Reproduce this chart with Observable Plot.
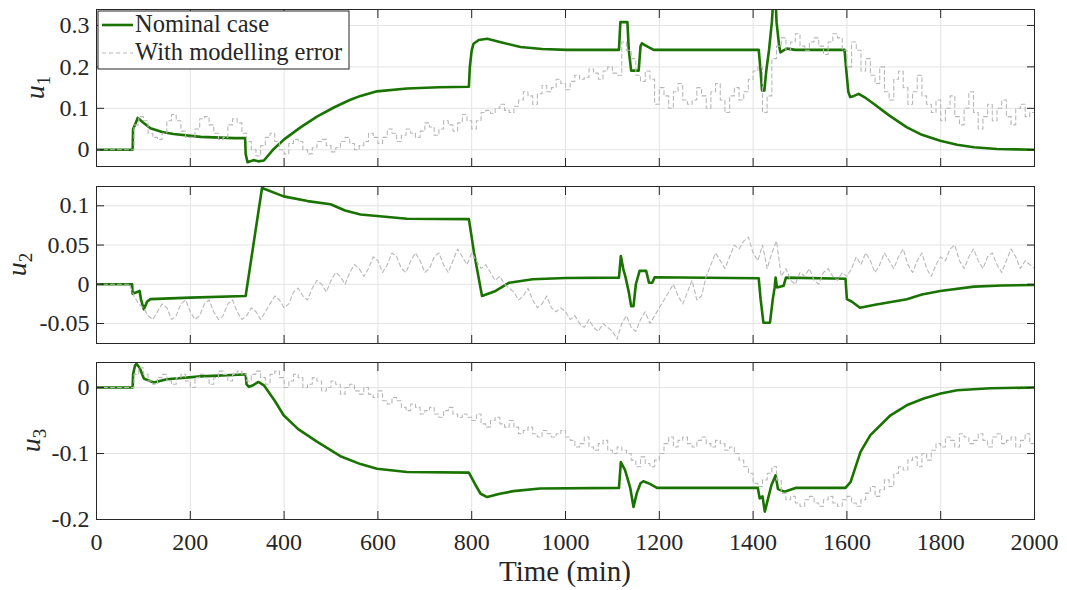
<!DOCTYPE html>
<html><head><meta charset="utf-8">
<script src="https://cdn.jsdelivr.net/npm/d3@7"></script>
<script src="https://cdn.jsdelivr.net/npm/@observablehq/plot@0.6"></script>
<style>
body{margin:0;background:#fff;}
#chart{position:relative;width:1067px;height:590px;background:#fff;}
#chart svg{position:absolute;left:0;}
#chart svg text{font-family:'Liberation Serif','Times New Roman',serif;}
</style></head><body><div id="chart"></div>
<script>
// ---------- Data ----------
const xTicks = [0, 200, 400, 600, 800, 1000, 1200, 1400, 1600, 1800, 2000];
const yTicksU1 = [0, 0.1, 0.2, 0.3];
const yTicksU2 = [-0.05, 0, 0.05, 0.1];
const yTicksU3 = [-0.2, -0.1, 0];
const seriesNames = ["Nominal case", "With modelling error"];
const panelLabels = ["1", "2", "3"];
const xTitle = "Time (min)";

// "With modelling error" series sampled every 10 min from t = 0 to 2000
const errorTime = d3.range(0, 2001, 10);
const u1Error = [
  0,0,0,0,0,0,0,0,                                             // 0-70
  0.06,0.08,0.07,0.04,0.03,0.025,0.04,0.07,0.085,0.07,0.045,0.03,0.03,0.05,0.075,0.08,0.06,0.04,0.025,0.03,0.06,0.075,0.065,0.04, // 80-310
  0.02,0.0,-0.015,0.01,0.03,0.04,0.02,0.0,-0.01,0.015,0.025,0.02,0.0,-0.01,0.005,0.02,0.025,0.01,-0.005,0.005,0.02,0.03,0.015,0.0,0.01, // 320-560
  0.02,0.04,0.03,0.015,0.03,0.05,0.04,0.02,0.035,             // 570-650
  0.05,0.04,0.03,0.045,0.065,0.055,0.035,0.05,0.07,0.06,      // 660-750
  0.045,0.065,0.085,0.07,0.05,0.07,0.09,                      // 760-820
  0.095,0.088,0.1,0.11,0.095,0.09,0.105,                      // 830-890
  0.12,0.14,0.13,0.11,0.135,0.155,0.14,                       // 900-960
  0.15,0.17,0.16,0.145,0.165,0.18,0.17,                       // 970-1030
  0.175,0.195,0.185,0.17,0.19,0.2,0.185,0.18,                 // 1040-1110
  0.26,0.24,0.22,                                             // 1120-1140
  0.18,0.165,0.19,0.17,                                       // 1150-1180
  0.11,0.15,0.13,0.1,0.14,0.16,0.12,0.11,                     // 1190-1260
  0.12,0.15,0.13,0.1,0.14,0.16,0.12,0.09,0.13,0.15,0.12,0.14,0.17,0.19, // 1270-1400
  0.2,0.09,0.13,0.22,                                         // 1410-1440
  0.25,0.27,0.24,0.26,0.28,0.25,0.24,0.26,0.27,0.25,0.23,0.26,0.28,0.27,0.24, // 1450-1590
  0.2,0.26,0.24,0.19,0.22,0.18,                               // 1600-1650
  0.16,0.2,0.14,0.12,0.17,0.19,0.15,0.11,0.14,0.18,0.13,0.11, // 1660-1770
  0.09,0.12,0.07,0.1,0.13,0.08,0.06,0.1,0.14,0.09,0.05,0.08,0.11,0.07,0.1,0.12,0.08,0.06,0.1,0.11,0.08,0.09,0.06 // 1780-2000
];
const u2Error = [
  0,0,0,0,0,0,0,0,                                             // 0-70
  -0.015,-0.025,-0.03,-0.04,                                   // 80-110
  -0.045,-0.035,-0.025,-0.03,-0.045,-0.04,-0.025,-0.02,-0.035,-0.045,-0.04,-0.025,-0.02,-0.035,-0.045,-0.04,-0.025,-0.02,-0.035,-0.045, // 120-310
  -0.04,-0.03,-0.035,-0.045,                                   // 320-350
  -0.035,-0.025,-0.015,-0.02,-0.03,-0.025,-0.01,-0.005,-0.015,-0.02,-0.005,0.005,0.0,-0.01,0.005,0.015,0.01,0.0,0.015,0.025,0.02, // 360-560
  0.01,0.02,0.035,0.03,0.015,0.025,0.04,0.035,0.02,0.015,0.03,0.04,0.03,0.015,0.02,0.035,0.04,0.025,0.015,0.03,0.045,0.035,0.025, // 570-790
  0.04,0.03,0.02,0.025,0.015,0.005,0.01,0.0,-0.005,            // 800-880
  -0.01,-0.02,-0.015,-0.005,-0.02,-0.03,-0.025,-0.015,-0.03,-0.035,-0.03,-0.035, // 890-1000
  -0.045,-0.04,-0.05,-0.055,-0.045,-0.055,-0.06,-0.05,-0.055,-0.06,-0.07, // 1010-1110
  -0.05,-0.04,-0.055,-0.06,-0.045,-0.035,-0.05,-0.04,-0.03,    // 1120-1200
  -0.02,-0.01,0.0,-0.015,-0.025,-0.01,0.005,-0.02,-0.015,      // 1210-1290
  0.01,0.025,0.04,0.03,0.02,0.035,0.05,0.045,0.055,0.06,0.04,0.03, // 1300-1410
  0.05,0.02,0.04,0.055,                                        // 1420-1450
  0.01,0.02,0.005,0.0,0.015,0.01,0.02,0.005,0.0,0.015,0.02,0.01,0.005,0.015,0.01, // 1460-1600
  0.02,0.035,0.025,0.04,0.03,0.015,0.025,0.04,0.03,0.02,0.035,0.045,0.025,0.015,0.03,0.04,0.02,0.01,0.025,0.035,
  0.03,0.045,0.05,0.03,0.02,0.035,0.045,0.03,0.02,0.035,0.04,0.025,0.015,0.03,0.045,0.035,0.02,0.03,0.025,0.02 // 1610-2000
];
const u3Error = [
  0,0,0,0,0,0,0,0,                                             // 0-70
  0.02,0.03,0.02,0.01,                                         // 80-110
  0.005,0.015,0.02,0.01,0.005,0.015,0.02,0.01,0.0,0.015,0.02,0.015,0.005,0.015,0.025,0.02,0.01,0.02,0.025,0.02, // 120-310
  0.01,0.02,0.025,0.015,0.005,0.02,0.025,0.015,0.0,0.01,0.02,0.015,0.0,0.005,0.015,0.01,-0.005,0.0,0.01,0.005,-0.01,0.0,0.005,-0.005,-0.01, // 320-560
  0.0,-0.01,-0.015,-0.005,-0.02,-0.025,-0.015,-0.02,-0.03,-0.035,-0.025,-0.03,-0.04,-0.035, // 570-700
  -0.03,-0.04,-0.045,-0.035,-0.03,-0.04,-0.045,-0.04,          // 710-780
  -0.045,-0.05,-0.04,-0.055,-0.06,-0.05,-0.045,-0.055,-0.06,-0.05, // 790-880
  -0.06,-0.07,-0.065,-0.06,-0.07,-0.075,-0.065,-0.07,-0.075,-0.07,-0.065,-0.075, // 890-1000
  -0.08,-0.09,-0.085,-0.075,-0.09,-0.095,-0.085,-0.08,-0.095,-0.1,-0.09,-0.095,-0.1, // 1010-1130
  -0.11,-0.12,-0.105,-0.115,-0.12,-0.11,-0.1,                  // 1140-1200
  -0.085,-0.075,-0.09,-0.08,-0.075,-0.085,-0.09,-0.08,-0.075,-0.085,-0.09,-0.08,-0.085,-0.095,-0.09, // 1210-1350
  -0.1,-0.11,-0.12,-0.13,-0.145,-0.15,-0.14,-0.13,-0.12,-0.14, // 1360-1450
  -0.16,-0.17,-0.165,-0.175,-0.18,-0.17,-0.165,-0.175,-0.18,-0.17,-0.165,-0.175,-0.18,-0.17,-0.165,-0.175,-0.18,-0.17, // 1460-1630
  -0.16,-0.15,-0.165,-0.155,-0.14,-0.15,                       // 1640-1690
  -0.13,-0.12,-0.125,-0.11,-0.105,-0.12,-0.1,-0.11,-0.095,     // 1700-1780
  -0.085,-0.09,-0.075,-0.08,-0.09,-0.07,-0.075,-0.085,-0.08,-0.07,-0.08,-0.09,-0.075,-0.07,-0.085,-0.08,-0.075,-0.09,-0.08,-0.07,-0.085,-0.075 // 1790-2000
];

// "Nominal case" series: [time (min), value]
const u1Nominal = [
  [0,0],[77,0],[78,0.05],[82,0.06],[88,0.077],[100,0.065],[115,0.052],[140,0.043],[164,0.038],[222,0.031],[293,0.028],[317,0.028],
  [318,-0.01],[322,-0.03],[335,-0.025],[345,-0.028],[357,-0.026],[378,0.002],[400,0.025],[435,0.054],[470,0.08],[506,0.102],[540,0.12],
  [563,0.13],[598,0.141],[662,0.148],[730,0.151],[794,0.152],[796,0.2],[800,0.24],[804,0.256],[815,0.265],[833,0.268],[860,0.26],
  [904,0.248],[950,0.243],[1003,0.241],[1114,0.241],[1117,0.308],[1132,0.308],[1135,0.24],[1140,0.191],[1156,0.191],[1160,0.25],
  [1163,0.257],[1170,0.252],[1188,0.241],[1412,0.241],[1416,0.19],[1419,0.143],[1424,0.143],[1428,0.19],[1434,0.241],[1440,0.308],
  [1443,0.36],[1448,0.36],[1450,0.308],[1455,0.256],[1458,0.235],[1465,0.24],[1472,0.244],[1490,0.241],[1595,0.241],[1598,0.2],
  [1603,0.14],[1607,0.127],[1615,0.13],[1625,0.135],[1640,0.125],[1657,0.111],[1690,0.083],[1728,0.054],[1760,0.036],[1799,0.022],
  [1835,0.012],[1871,0.006],[1920,0.002],[2000,0.0]
];
const u2Nominal = [
  [0,0],[76,0],[77,-0.012],[92,-0.0085],[95,-0.02],[101,-0.032],[108,-0.022],[115,-0.019],[200,-0.017],[318,-0.015],
  [353,0.123],[360,0.121],[399,0.112],[450,0.106],[499,0.102],[530,0.094],[563,0.089],[598,0.087],[662,0.0835],[794,0.083],
  [805,0.04],[822,-0.015],[851,-0.0085],[880,0.002],[930,0.0064],[1000,0.008],[1114,0.0085],[1118,0.036],[1123,0.02],[1128,0.009],
  [1135,-0.01],[1140,-0.028],[1145,-0.028],[1150,0.0],[1158,0.017],[1172,0.017],[1178,0.002],[1185,0.002],[1190,0.009],[1412,0.0076],
  [1416,-0.019],[1422,-0.049],[1436,-0.049],[1442,-0.019],[1446,-0.004],[1448,0.0085],[1451,-0.004],[1465,-0.002],[1470,0.0085],
  [1597,0.007],[1600,-0.019],[1610,-0.022],[1628,-0.03],[1660,-0.026],[1728,-0.019],[1760,-0.013],[1799,-0.0085],[1871,-0.003],
  [1930,-0.0015],[2000,-0.001]
];
const u3Nominal = [
  [0,0],[77,0],[78,0.02],[82,0.033],[85,0.036],[92,0.03],[101,0.0136],[122,0.0076],[150,0.0126],[222,0.017],[314,0.0197],[318,0.0197],
  [320,0.005],[325,0.001],[335,0.004],[345,0.0085],[357,0.0035],[380,-0.02],[399,-0.042],[430,-0.063],[470,-0.082],[520,-0.104],
  [563,-0.116],[598,-0.123],[662,-0.128],[794,-0.129],[810,-0.15],[819,-0.161],[833,-0.166],[860,-0.161],[889,-0.157],[946,-0.153],
  [1114,-0.152],[1118,-0.113],[1127,-0.125],[1138,-0.152],[1145,-0.181],[1152,-0.16],[1160,-0.145],[1166,-0.142],[1180,-0.146],
  [1195,-0.152],[1410,-0.152],[1414,-0.168],[1420,-0.165],[1425,-0.188],[1432,-0.168],[1439,-0.148],[1448,-0.133],[1453,-0.154],
  [1467,-0.158],[1492,-0.152],[1597,-0.152],[1608,-0.143],[1629,-0.0976],[1650,-0.072],[1693,-0.042],[1730,-0.026],[1764,-0.0167],
  [1800,-0.009],[1835,-0.004],[1906,-0.001],[2000,0]
];

// ---------- Drawing ----------
const GREEN = "#1a7300", GRAY = "#b8b8b8", INK = "#262626", GRID = "#e3e3e3";
const FONT = "'Liberation Serif', 'Times New Roman', serif";

const panels = [
  {nom: u1Nominal, err: u1Error, domain: [-0.0404, 0.3385], ticks: yTicksU1, top: 0,   height: 175, mt: 9,  mb: 9,  labelX: 43.5, bottom: false, errCurve: "step-after"},
  {nom: u2Nominal, err: u2Error, domain: [-0.0755, 0.1246], ticks: yTicksU2, top: 175, height: 175, mt: 11, mb: 7,  labelX: 26,   bottom: false, errCurve: "linear"},
  {nom: u3Nominal, err: u3Error, domain: [-0.2, 0.038],     ticks: yTicksU3, top: 350, height: 240, mt: 12, mb: 71, labelX: 39.5, bottom: true,  errCurve: "step-after"}
];

const chart = document.getElementById("chart");
panels.forEach((p, i) => {
  const nomData = p.nom.map(([t, v]) => ({t, v}));
  const errData = errorTime.map((t, k) => ({t, v: p.err[k]}));
  const marks = [
    Plot.gridX(xTicks, {stroke: GRID, strokeOpacity: 1}),
    Plot.gridY(p.ticks, {stroke: GRID, strokeOpacity: 1}),
    Plot.line(nomData, {x: "t", y: "v", stroke: GREEN, strokeWidth: 2.6, clip: true}),
    Plot.line(errData, {x: "t", y: "v", stroke: GRAY, strokeWidth: 1.1, strokeDasharray: "4,3", curve: p.errCurve, clip: true}),
    Plot.frame({stroke: INK, strokeWidth: 1}),
    // inward ticks on all four sides
    Plot.axisX(xTicks, {anchor: "bottom", tickSize: 8, dy: -8, tickFormat: () => "", stroke: INK, label: null}),
    Plot.axisX(xTicks, {anchor: "top", tickSize: 8, dy: 8, tickFormat: () => "", stroke: INK, label: null}),
    Plot.axisY(p.ticks, {anchor: "left", tickSize: 8, dx: 8, tickFormat: () => "", stroke: INK, label: null}),
    Plot.axisY(p.ticks, {anchor: "right", tickSize: 8, dx: -8, tickFormat: () => "", stroke: INK, label: null}),
    // y tick labels
    Plot.axisY(p.ticks, {anchor: "left", tickSize: 0, tickPadding: 7, tickFormat: d => String(d), fontSize: 24, fontFamily: FONT, fill: INK, label: null})
  ];
  if (p.bottom) {
    marks.push(Plot.axisX(xTicks, {anchor: "bottom", tickSize: 0, tickPadding: 13, tickFormat: d => String(d), fontSize: 24, fontFamily: FONT, fill: INK, label: null}));
  }
  const svg = Plot.plot({
    width: 1067, height: p.height,
    marginTop: p.mt, marginBottom: p.mb, marginLeft: 96, marginRight: 33,
    x: {domain: [0, 2000]},
    y: {domain: p.domain},
    style: {fontFamily: FONT, fontSize: "24px", color: INK, background: "transparent"},
    marks
  });
  svg.style.top = p.top + "px";
  chart.appendChild(svg);

  const s = d3.select(svg);
  const cy = p.mt + (p.height - p.mt - p.mb) / 2;
  const lab = s.append("text")
    .attr("transform", `translate(${p.labelX},${cy}) rotate(-90)`)
    .attr("text-anchor", "middle")
    .attr("fill", INK)
    .style("font-family", FONT);
  lab.append("tspan").attr("font-style", "italic").attr("font-size", 28).text("u");
  lab.append("tspan").attr("font-size", 19).attr("dy", 6).text(panelLabels[i]);

  if (i === 0) {
    const g = s.append("g").style("font-family", FONT).attr("text-anchor", "start");
    g.append("rect").attr("x", 98).attr("y", 11).attr("width", 251).attr("height", 58)
      .attr("fill", "white").attr("stroke", INK).attr("stroke-width", 1);
    g.append("line").attr("x1", 102).attr("x2", 133).attr("y1", 25).attr("y2", 25)
      .attr("stroke", GREEN).attr("stroke-width", 2.6);
    g.append("text").attr("x", 135).attr("y", 32).attr("font-size", 24.5).attr("text-anchor", "start").attr("fill", INK).text(seriesNames[0]);
    g.append("line").attr("x1", 102).attr("x2", 133).attr("y1", 53).attr("y2", 53)
      .attr("stroke", GRAY).attr("stroke-width", 1.1).attr("stroke-dasharray", "4,3");
    g.append("text").attr("x", 135).attr("y", 60).attr("font-size", 24.5).attr("text-anchor", "start").attr("fill", INK).text(seriesNames[1]);
  }
  if (p.bottom) {
    s.append("text").attr("x", 565).attr("y", 231).attr("text-anchor", "middle")
      .attr("font-size", 29).attr("fill", INK).style("font-family", FONT).text(xTitle);
  }
});
</script>
</body></html>
